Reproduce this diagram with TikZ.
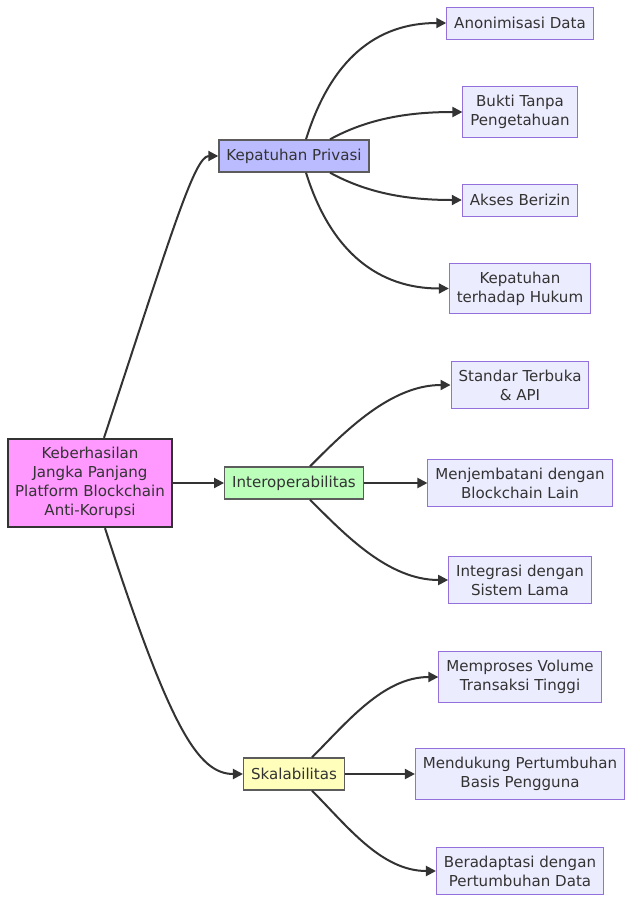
\documentclass[tikz,border=0pt]{standalone}
\usepackage{fontspec}
\setmainfont{DejaVu Sans}
\usepackage{tikz}
\usetikzlibrary{arrows.meta}

\definecolor{ink}{HTML}{333333}
\definecolor{rootfill}{HTML}{FF99FF}
\definecolor{privfill}{HTML}{BBBBFF}
\definecolor{interfill}{HTML}{BBFFBB}
\definecolor{scalefill}{HTML}{FFFFBB}
\definecolor{leaffill}{HTML}{ECECFF}
\definecolor{leafline}{HTML}{9370DB}

\tikzset{
every picture/.style={
line width=1.5pt
},
box/.style={text=ink, align=center, font=\fontsize{11.3}{14.25}\selectfont,
  inner xsep=5.6pt, inner ysep=6.3pt, minimum height=24pt},
goal/.style={box, draw=ink, fill=rootfill, line width=1.5pt, minimum width=123pt, inner xsep=4pt},
pillar/.style={box, draw=ink!80, line width=1pt},
leaf/.style={box, draw=leafline, fill=leaffill, line width=0.75pt},
link/.style={draw=ink, -{Triangle[length=7.5pt,width=7.5pt]}}
}

\begin{document}
\begin{tikzpicture}[x=0.75pt, y=-0.75pt]
  \useasboundingbox (0,0) rectangle (640,915);

  % goal and the three pillars
  \node [goal] at (90, 483) (goal) {Keberhasilan\\Jangka Panjang\\Platform Blockchain\\Anti-Korupsi};
  \node [pillar, fill=privfill] at (294, 156) (priv) {Kepatuhan Privasi};
  \node [pillar, fill=interfill] at (294, 483) (inter) {Interoperabilitas};
  \node [pillar, fill=scalefill] at (294, 774) (scale) {Skalabilitas};

  % leaves
  \node [leaf] at (520, 23) (anon) {Anonimisasi Data};
  \node [leaf] at (520, 112) (zkp) {Bukti Tanpa\\Pengetahuan};
  \node [leaf] at (520, 200) (akses) {Akses Berizin};
  \node [leaf] at (520, 288.5) (hukum) {Kepatuhan\\terhadap Hukum};

  \node [leaf] at (520, 385) (api) {Standar Terbuka\\\& API};
  \node [leaf] at (520, 483) (bridge) {Menjembatani dengan\\Blockchain Lain};
  \node [leaf] at (520, 580) (legacy) {Integrasi dengan\\Sistem Lama};

  \node [leaf] at (520, 677) (volume) {Memproses Volume\\Transaksi Tinggi};
  \node [leaf] at (520, 774) (users) {Mendukung Pertumbuhan\\Basis Pengguna};
  \node [leaf] at (520, 871) (data) {Beradaptasi dengan\\Pertumbuhan Data};

  % goal -> pillars
  \draw [link] ([xshift=10.5pt]goal.north) .. controls +(66,-200) and +(-24,0) .. (priv.west);
  \draw [link] (goal.east) -- (inter.west);
  \draw [link] ([xshift=11.25pt]goal.south) .. controls +(65,200) and +(-45,0) .. (scale.west);

  % pillars -> leaves
  \draw [link] ([xshift=9pt]priv.north) .. controls +(25,-80) and +(-70,0) .. (anon.west);
  \draw [link] ([xshift=27pt]priv.north) .. controls +(40,-22) and +(-50,0) .. (zkp.west);
  \draw [link] ([xshift=27pt]priv.south) .. controls +(40,22) and +(-50,0) .. (akses.west);
  \draw [link] ([xshift=9pt]priv.south) .. controls +(25,80) and +(-70,0) .. (hukum.west);

  \draw [link] ([xshift=12pt]inter.north) .. controls +(35,-35) and +(-60,0) .. (api.west);
  \draw [link] (inter.east) -- (bridge.west);
  \draw [link] ([xshift=12pt]inter.south) .. controls +(35,35) and +(-60,0) .. (legacy.west);

  \draw [link] ([xshift=13.5pt]scale.north) .. controls +(35,-35) and +(-55,0) .. (volume.west);
  \draw [link] (scale.east) -- (users.west);
  \draw [link] ([xshift=13.5pt]scale.south) .. controls +(35,35) and +(-55,0) .. (data.west);

\end{tikzpicture}
\end{document}
